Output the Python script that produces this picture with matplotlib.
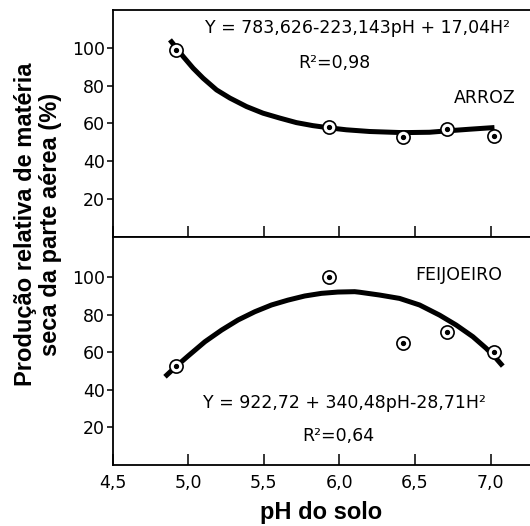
import matplotlib
matplotlib.use("Agg")
import matplotlib.pyplot as plt

# data
ph_pts = [4.92, 5.93, 6.42, 6.71, 7.02]
arroz_pts = [98.9, 58.0, 52.7, 56.9, 53.4]
feijao_pts = [52.5, 99.8, 65.0, 70.5, 60.2]

# fitted curves
arroz_curve_ph = [4.88, 4.967, 5.033, 5.099, 5.188, 5.276, 5.386, 5.495, 5.606, 5.716,
                  5.825, 5.936, 6.046, 6.20, 6.419, 6.596, 6.706, 6.86, 7.025]
arroz_curve_y = [104.2, 95.4, 89.2, 83.9, 77.7, 73.4, 68.9, 65.4, 62.8, 60.4,
                 58.8, 57.6, 56.6, 55.7, 55.1, 55.3, 56.0, 56.9, 57.8]
feijao_curve_ph = [4.847, 4.913, 5.0, 5.111, 5.221, 5.33, 5.441, 5.551, 5.66, 5.771,
                   5.881, 5.99, 6.101, 6.134, 6.266, 6.398, 6.53, 6.662, 6.772, 6.882,
                   6.97, 7.036, 7.08]
feijao_curve_y = [46.8, 51.8, 57.9, 65.5, 71.7, 77.1, 81.5, 85.1, 87.7, 89.9,
                  91.3, 92.0, 92.2, 91.9, 90.4, 88.6, 85.1, 79.7, 74.4, 68.2,
                  62.0, 56.6, 52.5]

xticks = [4.5, 5.0, 5.5, 6.0, 6.5, 7.0]
xticklabels = ["4,5", "5,0", "5,5", "6,0", "6,5", "7,0"]
yticks = [20, 40, 60, 80, 100]

plt.rcParams['font.family'] = ['DejaVu Sans']

fig = plt.figure(figsize=(5.30, 5.26), dpi=100)
L, R = 112.5 / 530, 1.0
ax1 = fig.add_axes([L, 1 - 236.75 / 526, R - L, (236.75 - 10) / 526])
ax2 = fig.add_axes([L, 1 - 464.5 / 526, R - L, (464.5 - 236.75) / 526])


def style(ax, ymax, labels):
    ax.set_xlim(4.5, 7.26)
    ax.set_ylim(0, ymax)
    ax.spines['right'].set_visible(False)
    for s in ax.spines.values():
        s.set_linewidth(1.3)
    ax.set_xticks(xticks)
    ax.set_yticks(yticks)
    ax.tick_params(axis='x', direction='in', length=8, width=1.1, labelsize=12.5, pad=7)
    ax.tick_params(axis='y', direction='out', length=4.5, width=1.1, labelsize=12.5, pad=1)
    if labels:
        ax.set_xticklabels(xticklabels)
    else:
        ax.set_xticklabels([])


def pts(ax, x, y):
    ax.plot(x, y, 'o', ms=9.5, mfc='white', mec='black', mew=1.2, zorder=3)
    ax.plot(x, y, 'o', ms=2.8, color='black', zorder=4)


style(ax1, 120, False)
style(ax2, 121.5, True)

ax1.plot(arroz_curve_ph, arroz_curve_y, color='black', lw=3.6,
         solid_capstyle='butt', solid_joinstyle='round', zorder=2)
pts(ax1, ph_pts, arroz_pts)
ax1.text(6.12, 110.5, "Y = 783,626-223,143pH + 17,04H²", ha='center', va='center', fontsize=12.5)
ax1.text(5.97, 92, "R²=0,98", ha='center', va='center', fontsize=12.5)
ax1.text(6.96, 73.5, "ARROZ", ha='center', va='center', fontsize=12.5)

ax2.plot(feijao_curve_ph, feijao_curve_y, color='black', lw=3.6,
         solid_capstyle='butt', solid_joinstyle='round', zorder=2)
pts(ax2, ph_pts, feijao_pts)
ax2.text(6.79, 101, "FEIJOEIRO", ha='center', va='center', fontsize=12.5)
ax2.text(6.03, 32.8, "Y = 922,72 + 340,48pH-28,71H²", ha='center', va='center', fontsize=12.5)
ax2.text(5.99, 15.2, "R²=0,64", ha='center', va='center', fontsize=12.5)

fig.text(38 / 530, 1 - 224 / 526, "Produção relativa de matéria\nseca da parte aérea (%)",
         rotation=90, ha='center', va='center', multialignment='center',
         fontsize=17, fontweight='bold', family='Liberation Sans', linespacing=1.15)
fig.text(321 / 530, 1 - 512 / 526, "pH do solo", ha='center', va='center',
         fontsize=17, fontweight='bold', family='Liberation Sans')

fig.savefig("out.png", dpi=100, facecolor='white')
